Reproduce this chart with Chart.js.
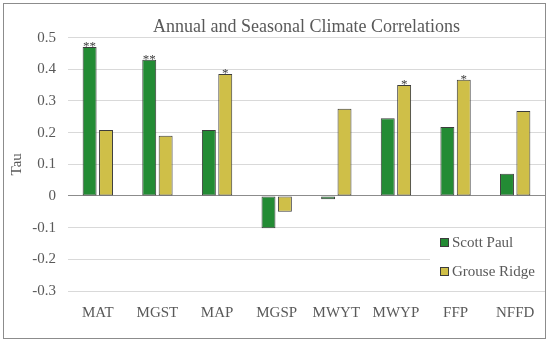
<!DOCTYPE html>
<html>
<head>
<meta charset="utf-8">
<script src="https://cdn.jsdelivr.net/npm/chart.js@4/dist/chart.umd.min.js"></script>
<style>
  html, body { margin: 0; padding: 0; background: #fff; }
  #wrap { width: 550px; height: 343px; }
</style>
</head>
<body>
<div id="wrap"><canvas id="chart" width="550" height="343"></canvas></div>
<script>
// Datos
const categorias = ['MAT', 'MGST', 'MAP', 'MGSP', 'MWYT', 'MWYP', 'FFP', 'NFFD'];
const scottPaul = [0.47, 0.43, 0.208, -0.102, -0.01, 0.245, 0.218, 0.07];
const grouseRidge = [0.208, 0.19, 0.385, -0.05, 0.275, 0.35, 0.367, 0.268];
// Marcas de significancia sobre cada barra
const scottPaulStars = ['**', '**', '', '', '', '', '', ''];
const grouseRidgeStars = ['', '', '*', '', '', '*', '*', ''];

const FONT = "'Liberation Serif', 'Times New Roman', serif";
const TEXT = '#595959';

const colores = {
    scott: '#238b34',
    grouse: '#cfbf48',
    borde: '#3c3c3c',
    grid: '#d9d9d9',
    cero: '#8c8c8c'
};

// Marco exterior
const marcoPlugin = {
    id: 'marco',
    beforeDraw(chart) {
        const ctx = chart.ctx;
        ctx.save();
        ctx.fillStyle = '#fff';
        ctx.fillRect(0, 0, chart.width, chart.height);
        ctx.strokeStyle = '#8c8c8c';
        ctx.lineWidth = 1;
        ctx.strokeRect(3.5, 3.5, 542, 335);
        ctx.restore();
    }
};

// Asteriscos sobre las barras
const estrellasPlugin = {
    id: 'estrellas',
    afterDatasetsDraw(chart) {
        const ctx = chart.ctx;
        const marcas = [scottPaulStars, grouseRidgeStars];
        ctx.save();
        ctx.font = '13px ' + FONT;
        ctx.fillStyle = '#404040';
        ctx.textAlign = 'center';
        ctx.textBaseline = 'alphabetic';
        marcas.forEach((lista, d) => {
            const meta = chart.getDatasetMeta(d);
            lista.forEach((txt, i) => {
                if (!txt) return;
                const bar = meta.data[i];
                ctx.fillText(txt, bar.x, bar.y + 3);
            });
        });
        ctx.restore();
    }
};

// Leyenda dentro del área del gráfico
const leyendaPlugin = {
    id: 'leyendaInterna',
    afterDatasetsDraw(chart) {
        const ctx = chart.ctx;
        const area = chart.chartArea;
        const x0 = 430, y0 = 231;
        ctx.save();
        ctx.fillStyle = '#fff';
        ctx.fillRect(x0, y0, area.right - x0, 57);
        ctx.font = '15px ' + FONT;
        ctx.textBaseline = 'middle';
        chart.data.datasets.forEach((ds, i) => {
            const cy = 243 + i * 29;
            ctx.fillStyle = ds.backgroundColor;
            ctx.fillRect(440.5, cy - 4.5, 8, 8);
            ctx.strokeStyle = colores.borde;
            ctx.lineWidth = 1;
            ctx.strokeRect(440.5, cy - 4.5, 8, 8);
            ctx.fillStyle = TEXT;
            ctx.fillText(ds.label, 452, cy);
        });
        ctx.restore();
    }
};

new Chart(document.getElementById('chart'), {
    type: 'bar',
    data: {
        labels: categorias,
        datasets: [
            {
                label: 'Scott Paul',
                data: scottPaul,
                backgroundColor: colores.scott,
                borderColor: colores.borde,
                borderWidth: 1,
                borderSkipped: false
            },
            {
                label: 'Grouse Ridge',
                data: grouseRidge,
                backgroundColor: colores.grouse,
                borderColor: colores.borde,
                borderWidth: 1,
                borderSkipped: false
            }
        ]
    },
    options: {
        responsive: false,
        animation: false,
        categoryPercentage: 0.55,
        barPercentage: 0.85,
        layout: {
            padding: { left: 8, right: 5, top: 0, bottom: 7 }
        },
        plugins: {
            legend: { display: false },
            tooltip: { enabled: false },
            title: {
                display: true,
                text: 'Annual and Seasonal Climate Correlations',
                fullSize: false,
                color: TEXT,
                font: { family: FONT, size: 18, weight: 'normal' },
                padding: { top: 16, bottom: 0 }
            }
        },
        scales: {
            x: {
                grid: { display: false, drawTicks: false },
                border: { display: false },
                ticks: {
                    color: TEXT,
                    font: { family: FONT, size: 15 },
                    padding: 13
                },
                afterFit(scale) { scale.height = 45; }
            },
            y: {
                min: -0.3,
                max: 0.5,
                ticks: {
                    stepSize: 0.1,
                    color: TEXT,
                    font: { family: FONT, size: 15 },
                    padding: 12
                },
                grid: {
                    drawTicks: false,
                    color: ctx => (Math.abs(ctx.tick.value) < 1e-9 ? colores.cero : colores.grid),
                    lineWidth: 1
                },
                border: { display: false },
                title: {
                    display: true,
                    text: 'Tau',
                    color: TEXT,
                    font: { family: FONT, size: 15 },
                    padding: 0
                },
                afterFit(scale) { scale.width = 60; }
            }
        }
    },
    plugins: [marcoPlugin, estrellasPlugin, leyendaPlugin]
});
</script>
</body>
</html>
